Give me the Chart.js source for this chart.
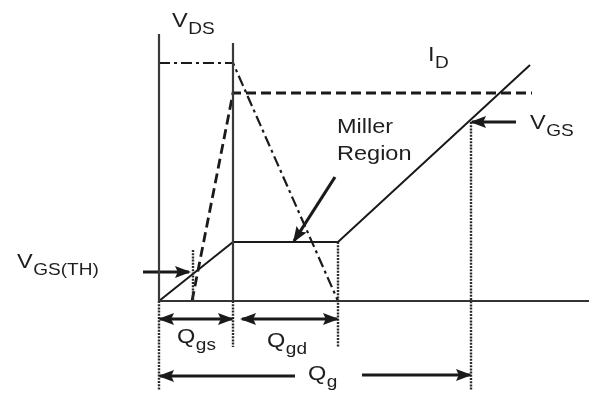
<!DOCTYPE html>
<html>
<head>
<meta charset="utf-8">
<script src="https://cdn.jsdelivr.net/npm/chart.js@4.4.1/dist/chart.umd.min.js"></script>
<style>
html, body { margin: 0; background: #fff; }
canvas { display: block; }
</style>
</head>
<body>
<canvas id="chart" width="589" height="397"></canvas>
<script>
// gate charge (x, arbitrary units) vs voltage / current (y, arbitrary units)
const vgsX = [0, 7.4, 17.9, 37.1];
const vgsY = [0, 5.9, 5.9, 23.6];
const vdsX = [0, 7.4, 17.9];
const vdsY = [23.8, 23.8, 0];
const idX = [3.3, 7.4, 37.3];
const idY = [0, 20.8, 20.8];

// frame and marker lines
const baseX = [0, 43];
const baseY = [0, 0];
const axisX = [0, 0];
const axisY = [26.7, 0];
const axisLowY = [0, -8.9];
const qgsEdgeX = [7.4, 7.4];
const qgsEdgeY = [25.8, 0];
const qgsEdgeLowY = [0, -4.6];
const qgdEdgeX = [17.9, 17.9];
const qgdEdgeY = [5.9, -4.6];
const thX = [3.4, 3.4];
const thY = [5.1, 0];
const qgEdgeX = [31.2, 31.2];
const qgEdgeY = [17.9, -8.9];

// arrows: [x0, x1], [y0, y1]
const arrThX = [-1.6, 3.0], arrThY = [2.9, 2.9];
const arrVgsX = [35.7, 31.3], arrVgsY = [17.9, 17.9];
const arrMillerX = [17.6, 13.5], arrMillerY = [12.4, 6.0];
const arrQgsX = [0.1, 7.3], arrQgsY = [-1.8, -1.8];
const arrQgdX = [8.3, 17.8], arrQgdY = [-1.8, -1.8];
const arrQgLX = [13.6, 0.1], arrQgLY = [-7.5, -7.5];
const arrQgRX = [20.3, 31.1], arrQgRY = [-7.4, -7.4];

// labels: main text, subscript, anchor x, baseline y
const labelMain = ['V', 'I', 'Miller', 'Region', 'V', 'V', 'Q', 'Q', 'Q'];
const labelSub = ['DS', 'D', '', '', 'GS', 'GS(TH)', 'gs', 'gd', 'g'];
const labelX = [1.3, 26.9, 17.8, 17.8, 37.1, -14.2, 1.8, 10.8, 14.9];
const labelY = [27.4, 24.0, 16.8, 14.1, 17.2, 3.3, -4.2, -4.6, -7.9];

const ink = '#1a1a1a';

function pts(xs, ys) {
    return xs.map((x, i) => ({ x, y: ys[i] }));
}

function line(xs, ys, opts) {
    return Object.assign({
        data: pts(xs, ys),
        showLine: true,
        borderColor: ink,
        borderWidth: 2,
        pointRadius: 0,
        fill: false,
        tension: 0,
    }, opts || {});
}

const dotted = { borderDash: [2, 1.2], borderColor: '#2a2a2a', borderWidth: 2.4 };

const datasets = [
    line(baseX, baseY, { borderColor: '#333' }),
    line(axisX, axisY, { borderColor: '#3a3a3a', borderWidth: 2.2 }),
    line(axisX, axisLowY, dotted),
    line(qgsEdgeX, qgsEdgeY, { borderColor: '#3a3a3a', borderWidth: 2.2 }),
    line(qgsEdgeX, qgsEdgeLowY, dotted),
    line(qgdEdgeX, qgdEdgeY, dotted),
    line(thX, thY, dotted),
    line(qgEdgeX, qgEdgeY, dotted),
    line(vgsX, vgsY, { borderWidth: 2 }),
    line(vdsX, vdsY, { borderDash: [11, 4, 3, 4], borderWidth: 2.2 }),
    line(idX, idY, { borderDash: [10, 5], borderWidth: 2.8 }),
    line(arrThX, arrThY, { borderWidth: 3.2, arrow: 'end' }),
    line(arrVgsX, arrVgsY, { borderWidth: 3.2, arrow: 'end' }),
    line(arrMillerX, arrMillerY, { borderWidth: 3.2, arrow: 'end' }),
    line(arrQgsX, arrQgsY, { borderWidth: 2.8, arrow: 'both' }),
    line(arrQgdX, arrQgdY, { borderWidth: 2.8, arrow: 'both' }),
    line(arrQgLX, arrQgLY, { borderWidth: 3.2, arrow: 'end' }),
    line(arrQgRX, arrQgRY, { borderWidth: 3.2, arrow: 'end' }),
];

function head(c, from, to, len, half) {
    const a = Math.atan2(to.y - from.y, to.x - from.x);
    c.save();
    c.translate(to.x, to.y);
    c.rotate(a);
    c.beginPath();
    c.moveTo(2, 0);
    c.lineTo(-len, -half);
    c.lineTo(-len * 0.8, 0);
    c.lineTo(-len, half);
    c.closePath();
    c.fill();
    c.restore();
}

const arrowHeads = {
    id: 'arrowHeads',
    afterDatasetsDraw(chart) {
        const c = chart.ctx;
        c.fillStyle = ink;
        chart.data.datasets.forEach((ds, i) => {
            if (!ds.arrow) return;
            const p = chart.getDatasetMeta(i).data;
            const a = p[0], b = p[p.length - 1];
            head(c, a, b, 14, 6);
            if (ds.arrow === 'both') head(c, b, a, 14, 6);
        });
    },
};

const textLabels = {
    id: 'textLabels',
    afterDatasetsDraw(chart) {
        const c = chart.ctx;
        const xs = chart.scales.x, ys = chart.scales.y;
        c.save();
        c.fillStyle = '#1e1e1e';
        c.textBaseline = 'alphabetic';
        labelMain.forEach((t, i) => {
            const px = xs.getPixelForValue(labelX[i]);
            const py = ys.getPixelForValue(labelY[i]);
            c.save();
            c.translate(px, py);
            c.scale(1.12, 1);
            c.font = '21px "Liberation Sans", Arial, sans-serif';
            c.fillText(t, 0, 0);
            const w = c.measureText(t).width;
            if (labelSub[i]) {
                c.font = '17px "Liberation Sans", Arial, sans-serif';
                c.fillText(labelSub[i], w + 0.5, 7);
            }
            c.restore();
        });
        c.restore();
    },
};

new Chart(document.getElementById('chart').getContext('2d'), {
    type: 'scatter',
    data: { datasets },
    options: {
        responsive: false,
        animation: false,
        layout: { padding: 0 },
        scales: {
            x: { type: 'linear', min: -15.9, max: 43.0, display: false },
            y: { type: 'linear', min: -9.6, max: 30.1, display: false },
        },
        plugins: {
            legend: { display: false },
            tooltip: { enabled: false },
        },
    },
    plugins: [arrowHeads, textLabels],
});
</script>
</body>
</html>
